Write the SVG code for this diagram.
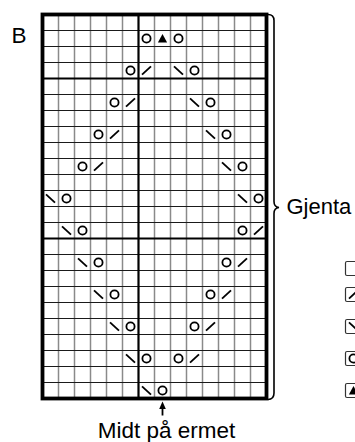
<svg xmlns="http://www.w3.org/2000/svg" width="355" height="442" viewBox="0 0 355 442">
<defs>
<style>
.vl{stroke:#8a8a8a;stroke-width:1.5}
.hl{stroke:#1a1a1a;stroke-width:1.1}
.thk{stroke:#000;stroke-width:2.2}
.edge{stroke:#000;stroke-width:3.8;fill:none}
.sym{stroke:#000;stroke-width:1.8;fill:none;stroke-linecap:butt}
.tri{fill:#000}
.lbl{font-family:"Liberation Sans",Arial,sans-serif;fill:#000}
.box{fill:#fff;stroke:#333;stroke-width:1.2}
</style>
<circle id="o" r="4.1" class="sym"/>
<path id="r" d="M-4.5,4.2 L4.5,-4.2" class="sym"/>
<path id="l" d="M-4.5,-4.2 L4.5,4.2" class="sym"/>
<path id="t" d="M0,-4.5 L4.6,4 L-4.6,4 Z" class="tri"/>
</defs>
<rect width="355" height="442" fill="#fff"/>
<g id="grid">
<rect x="42.5" y="14.5" width="224" height="384" fill="#fff"/>
<g class="vl">
<line x1="58.5" y1="14.5" x2="58.5" y2="398.5"/><line x1="74.5" y1="14.5" x2="74.5" y2="398.5"/>
<line x1="90.5" y1="14.5" x2="90.5" y2="398.5"/><line x1="106.5" y1="14.5" x2="106.5" y2="398.5"/>
<line x1="122.5" y1="14.5" x2="122.5" y2="398.5"/><line x1="154.5" y1="14.5" x2="154.5" y2="398.5"/>
<line x1="170.5" y1="14.5" x2="170.5" y2="398.5"/><line x1="186.5" y1="14.5" x2="186.5" y2="398.5"/>
<line x1="202.5" y1="14.5" x2="202.5" y2="398.5"/><line x1="218.5" y1="14.5" x2="218.5" y2="398.5"/>
<line x1="234.5" y1="14.5" x2="234.5" y2="398.5"/><line x1="250.5" y1="14.5" x2="250.5" y2="398.5"/>
</g>
<g class="hl">
<line x1="42.5" y1="30.5" x2="266.5" y2="30.5"/><line x1="42.5" y1="46.5" x2="266.5" y2="46.5"/>
<line x1="42.5" y1="62.5" x2="266.5" y2="62.5"/><line x1="42.5" y1="94.5" x2="266.5" y2="94.5"/>
<line x1="42.5" y1="110.5" x2="266.5" y2="110.5"/><line x1="42.5" y1="126.5" x2="266.5" y2="126.5"/>
<line x1="42.5" y1="142.5" x2="266.5" y2="142.5"/><line x1="42.5" y1="158.5" x2="266.5" y2="158.5"/>
<line x1="42.5" y1="174.5" x2="266.5" y2="174.5"/><line x1="42.5" y1="190.5" x2="266.5" y2="190.5"/>
<line x1="42.5" y1="206.5" x2="266.5" y2="206.5"/><line x1="42.5" y1="222.5" x2="266.5" y2="222.5"/>
<line x1="42.5" y1="254.5" x2="266.5" y2="254.5"/>
<line x1="42.5" y1="270.5" x2="266.5" y2="270.5"/><line x1="42.5" y1="286.5" x2="266.5" y2="286.5"/>
<line x1="42.5" y1="302.5" x2="266.5" y2="302.5"/><line x1="42.5" y1="318.5" x2="266.5" y2="318.5"/>
<line x1="42.5" y1="334.5" x2="266.5" y2="334.5"/><line x1="42.5" y1="350.5" x2="266.5" y2="350.5"/>
<line x1="42.5" y1="366.5" x2="266.5" y2="366.5"/><line x1="42.5" y1="382.5" x2="266.5" y2="382.5"/>
</g>
<g class="thk">
<line x1="42.5" y1="78.5" x2="266.5" y2="78.5"/>
<line x1="42.5" y1="238.5" x2="266.5" y2="238.5"/>
<line x1="138.5" y1="14.5" x2="138.5" y2="398.5"/>
</g>
<rect x="42.5" y="14.5" width="224" height="384" class="edge"/>
</g>
<g id="symbols">
<use href="#o" x="146.5" y="38.5"/><use href="#t" x="162.5" y="38.5"/><use href="#o" x="178.5" y="38.5"/>
<use href="#o" x="130.5" y="70.5"/><use href="#r" x="146.5" y="70.5"/><use href="#l" x="178.5" y="70.5"/><use href="#o" x="194.5" y="70.5"/>
<use href="#o" x="114.5" y="102.5"/><use href="#r" x="130.5" y="102.5"/><use href="#l" x="194.5" y="102.5"/><use href="#o" x="210.5" y="102.5"/>
<use href="#o" x="98.5" y="134.5"/><use href="#r" x="114.5" y="134.5"/><use href="#l" x="210.5" y="134.5"/><use href="#o" x="226.5" y="134.5"/>
<use href="#o" x="82.5" y="166.5"/><use href="#r" x="98.5" y="166.5"/><use href="#l" x="226.5" y="166.5"/><use href="#o" x="242.5" y="166.5"/>
<use href="#l" x="50.5" y="198.5"/><use href="#o" x="66.5" y="198.5"/><use href="#l" x="242.5" y="198.5"/><use href="#o" x="258.5" y="198.5"/>
<use href="#l" x="66.5" y="230.5"/><use href="#o" x="82.5" y="230.5"/><use href="#o" x="242.5" y="230.5"/><use href="#r" x="258.5" y="230.5"/>
<use href="#l" x="82.5" y="262.5"/><use href="#o" x="98.5" y="262.5"/><use href="#o" x="226.5" y="262.5"/><use href="#r" x="242.5" y="262.5"/>
<use href="#l" x="98.5" y="294.5"/><use href="#o" x="114.5" y="294.5"/><use href="#o" x="210.5" y="294.5"/><use href="#r" x="226.5" y="294.5"/>
<use href="#l" x="114.5" y="326.5"/><use href="#o" x="130.5" y="326.5"/><use href="#o" x="194.5" y="326.5"/><use href="#r" x="210.5" y="326.5"/>
<use href="#l" x="130.5" y="358.5"/><use href="#o" x="146.5" y="358.5"/><use href="#o" x="178.5" y="358.5"/><use href="#r" x="194.5" y="358.5"/>
<use href="#l" x="146.5" y="390.5"/><use href="#o" x="162.5" y="390.5"/>
</g>
<g id="connectors">
<path d="M268,14.5 Q274,14.5 274,20.5 L274,201.5 Q274,207 279,207.5 Q274,208 274,213.5 L274,393 Q274,399.5 268,399.5" fill="none" stroke="#000" stroke-width="1.6"/>
<line x1="162.5" y1="407" x2="162.5" y2="415.5" stroke="#000" stroke-width="1.8"/>
<path d="M162.5,401.5 L165.8,409 L159.2,409 Z" fill="#000"/>
</g>
<g id="legend">
<rect x="345.5" y="261.5" width="16" height="14" rx="1.5" class="box"/>
<rect x="345.5" y="287.5" width="16" height="14" rx="1.5" class="box"/>
<use href="#r" x="353.5" y="294.5"/>
<rect x="345.5" y="319.5" width="16" height="14" rx="1.5" class="box"/>
<use href="#l" x="353.5" y="326.5"/>
<rect x="345.5" y="351.5" width="16" height="14" rx="1.5" class="box"/>
<use href="#o" x="353.5" y="358.5"/>
<rect x="345.5" y="383.5" width="16" height="14" rx="1.5" class="box"/>
<use href="#t" x="353.5" y="390.5"/>
</g>
<g id="labels">
<text class="lbl" x="11.5" y="42.5" font-size="22.5">B</text>
<text class="lbl" x="286.5" y="213.5" font-size="22">Gjenta</text>
<text class="lbl" x="166.5" y="437.5" font-size="22.5" text-anchor="middle">Midt på ermet</text>
</g>
</svg>
